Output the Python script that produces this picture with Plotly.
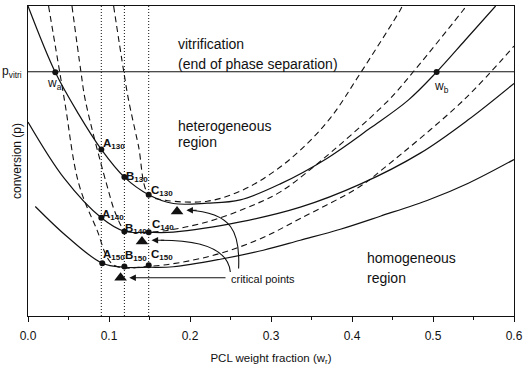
import plotly.graph_objects as go

# ---------------- data ----------------
p_vitri = 0.788

# solid curves (T = 130, 140, 150)
s130_x = [0.0, 0.0337, 0.0621, 0.0905, 0.1189, 0.1489, 0.1794, 0.2214, 0.2621, 0.3115, 0.3695, 0.4226, 0.4695, 0.5044, 0.5399, 0.5773]
s130_y = [1.0, 0.786, 0.6529, 0.5373, 0.4479, 0.3913, 0.3629, 0.3639, 0.3745, 0.4262, 0.5092, 0.6061, 0.6965, 0.7869, 0.8903, 1.0]

s140_x = [0.0, 0.0448, 0.0905, 0.1189, 0.1489, 0.1794, 0.2621, 0.3362, 0.4102, 0.4843, 0.5430, 0.6]
s140_y = [0.626, 0.444, 0.317, 0.2735, 0.270, 0.2706, 0.3035, 0.3510, 0.4253, 0.5254, 0.6321, 0.7504]

s150_x = [0.009, 0.0481, 0.0917, 0.1189, 0.1489, 0.1794, 0.2374, 0.2905, 0.3362, 0.3856, 0.4349, 0.4966, 0.5436, 0.6]
s150_y = [0.3532, 0.2564, 0.1702, 0.1572, 0.1572, 0.1589, 0.1831, 0.2122, 0.2444, 0.2799, 0.3219, 0.3768, 0.4285, 0.505]

# dashed curves
d130_x = [0.1057, 0.1183, 0.1242, 0.1362, 0.1489, 0.1695, 0.2213, 0.2621, 0.2991, 0.3362, 0.3732, 0.4102, 0.4596, 0.4621]
d130_y = [1.0, 0.7869, 0.6965, 0.5512, 0.3913, 0.3736, 0.3704, 0.4027, 0.4576, 0.5350, 0.6384, 0.7827, 0.9871, 1.0]

d140_x = [0.0543, 0.0654, 0.0707, 0.0967, 0.1090, 0.1201, 0.1510, 0.2210, 0.2827, 0.3115, 0.3526, 0.4432, 0.4757, 0.5374, 0.5411]
d140_y = [1.0, 0.7869, 0.6965, 0.4285, 0.3251, 0.2767, 0.2703, 0.3035, 0.3629, 0.4004, 0.4811, 0.6910, 0.7879, 0.9871, 1.0]

d150_x = [0.0254, 0.0450, 0.0625, 0.0843, 0.1057, 0.1510, 0.2210, 0.2827, 0.3362, 0.4099, 0.4390, 0.5378, 0.6]
d150_y = [1.0, 0.6965, 0.4285, 0.2832, 0.1647, 0.1605, 0.1905, 0.2444, 0.3145, 0.4178, 0.4760, 0.6965, 0.8709]

# vertical dotted lines
vlines_x = [0.0905, 0.119, 0.149]

# labelled points
pt_names = ["A", "B", "C", "A", "B", "C", "A", "B", "C"]
pt_temps = ["130", "130", "130", "140", "140", "140", "150", "150", "150"]
pt_x = [0.0905, 0.119, 0.149, 0.0905, 0.119, 0.149, 0.0917, 0.119, 0.149]
pt_y = [0.537, 0.448, 0.391, 0.317, 0.2725, 0.270, 0.170, 0.1595, 0.164]
# label pixel offsets (dx right, dy up) from each dot
pt_lab_dx = [0, 0, 0, -1, -1, 1, -1, -1, 0]
pt_lab_dy = [6, 0, 4, 3, 3, 7, 8, 11, 10]

# w_a and w_b on vitrification line
w_x = [0.0337, 0.5045]
w_y = [0.786, 0.787]

# critical points (triangles)
crit_x = [0.184, 0.1407, 0.1143]
crit_y = [0.337, 0.2404, 0.1232]

x_ticks = [0.0, 0.1, 0.2, 0.3, 0.4, 0.5, 0.6]
x_ticklabels = ["0.0", "0.1", "0.2", "0.3", "0.4", "0.5", "0.6"]

FONT = "Liberation Sans, Arial, sans-serif"
BLACK = "#111111"

fig = go.Figure()

# dotted verticals
for vx in vlines_x:
    fig.add_trace(go.Scatter(x=[vx, vx], y=[0, 1], mode="lines",
                             line=dict(color=BLACK, width=1, dash="1px,2px"),
                             hoverinfo="skip", showlegend=False))

# dashed curves
for xs, ys in [(d130_x, d130_y), (d140_x, d140_y), (d150_x, d150_y)]:
    fig.add_trace(go.Scatter(x=xs, y=ys, mode="lines",
                             line=dict(color=BLACK, width=1.1, dash="6px,4px", shape="spline", smoothing=1.0),
                             hoverinfo="skip", showlegend=False))

# solid curves
for xs, ys in [(s130_x, s130_y), (s140_x, s140_y), (s150_x, s150_y)]:
    fig.add_trace(go.Scatter(x=xs, y=ys, mode="lines",
                             line=dict(color=BLACK, width=1.2, shape="spline", smoothing=1.0),
                             hoverinfo="skip", showlegend=False))

# vitrification line
fig.add_trace(go.Scatter(x=[0, 0.6], y=[p_vitri, p_vitri], mode="lines",
                         line=dict(color=BLACK, width=1.1), hoverinfo="skip", showlegend=False))

# dots
fig.add_trace(go.Scatter(x=pt_x + w_x, y=pt_y + w_y, mode="markers",
                         marker=dict(color=BLACK, size=6, symbol="circle"),
                         hoverinfo="skip", showlegend=False))

# triangles
fig.add_trace(go.Scatter(x=crit_x, y=crit_y, mode="markers",
                         marker=dict(color=BLACK, size=11, symbol="triangle-up"),
                         hoverinfo="skip", showlegend=False))

# point labels
for n, t, x, y, dx, dy in zip(pt_names, pt_temps, pt_x, pt_y, pt_lab_dx, pt_lab_dy):
    fig.add_annotation(x=x, y=y, text=f"<b>{n}<sub>{t}</sub></b>", showarrow=False,
                       xanchor="left", yanchor="middle", xshift=dx, yshift=dy,
                       font=dict(family=FONT, size=11.5, color=BLACK))

# w labels
fig.add_annotation(x=w_x[0], y=w_y[0], text="w<sub>a</sub>", showarrow=False,
                   xanchor="left", yanchor="top", xshift=-10, yshift=-2,
                   font=dict(family=FONT, size=12, color=BLACK))
fig.add_annotation(x=w_x[1], y=w_y[1], text="w<sub>b</sub>", showarrow=False,
                   xanchor="left", yanchor="top", xshift=-5, yshift=-5,
                   font=dict(family=FONT, size=12, color=BLACK))

# p_vitri
fig.add_annotation(x=0, y=p_vitri, xref="paper", yref="y", text="p<sub>vitri</sub>", showarrow=False,
                   xanchor="right", yanchor="middle", xshift=-4, yshift=0,
                   font=dict(family=FONT, size=12, color=BLACK))

# region texts
texts = [
    ("vitrification", 0.1827, 0.8766, 14),
    ("(end of phase separation)", 0.1827, 0.8127, 14),
    ("heterogeneous", 0.1827, 0.6135, 14),
    ("region", 0.1827, 0.560, 14),
    ("homogeneous", 0.416, 0.1863, 14),
    ("region", 0.416, 0.124, 14),
    ("critical points", 0.2477, 0.1208, 11),
]
for txt, x, y, s in texts:
    fig.add_annotation(x=x, y=y, text=txt, showarrow=False, xanchor="left", yanchor="middle",
                       font=dict(family=FONT, size=s, color=BLACK))

# arrows: curved bodies as shapes, heads as annotations
fig.add_shape(type="path", xref="x", yref="y",
              path="M 0.260,0.153 C 0.262,0.2703 0.2522,0.3348 0.1975,0.3413",
              line=dict(color=BLACK, width=1.1))
fig.add_shape(type="path", xref="x", yref="y",
              path="M 0.2498,0.142 C 0.2472,0.212 0.2189,0.2444 0.1640,0.2444",
              line=dict(color=BLACK, width=1.1))
fig.add_annotation(x=0.1955, y=0.3413, ax=0.2100, ay=0.3413, axref="x", ayref="y",
                   xref="x", yref="y", text="", showarrow=True, arrowhead=2, arrowsize=1.2,
                   arrowwidth=1.1, arrowcolor=BLACK)
fig.add_annotation(x=0.1525, y=0.2444, ax=0.1700, ay=0.2444, axref="x", ayref="y",
                   xref="x", yref="y", text="", showarrow=True, arrowhead=2, arrowsize=1.2,
                   arrowwidth=1.1, arrowcolor=BLACK)
fig.add_annotation(x=0.1250, y=0.1233, ax=0.2457, ay=0.1233, axref="x", ayref="y",
                   xref="x", yref="y", text="", showarrow=True, arrowhead=2, arrowsize=1.2,
                   arrowwidth=1.1, arrowcolor=BLACK)

fig.update_layout(
    width=526, height=366,
    margin=dict(l=28, r=12, t=6, b=50),
    paper_bgcolor="white", plot_bgcolor="white",
    font=dict(family=FONT, size=12, color=BLACK),
    xaxis=dict(range=[0, 0.6], tickvals=x_ticks, ticktext=x_ticklabels, automargin=False,
               showgrid=False, zeroline=False, showline=True, linecolor=BLACK, linewidth=1.3,
               mirror=True, ticks="outside", ticklen=5, tickwidth=1.2, tickcolor=BLACK,
               ticklabelstandoff=3,
               minor=dict(dtick=0.05, ticks="outside", ticklen=3, tickwidth=1, tickcolor=BLACK),
               title=dict(text="PCL weight fraction (w<sub>r</sub>)", standoff=20,
                          font=dict(family=FONT, size=11.5, color=BLACK)),
               tickfont=dict(family=FONT, size=12, color=BLACK)),
    yaxis=dict(range=[0, 1], showticklabels=False, ticks="", automargin=False,
               showgrid=False, zeroline=False, showline=True, linecolor=BLACK, linewidth=1.3,
               mirror=True,
               title=dict(text="conversion (p)", standoff=2,
                          font=dict(family=FONT, size=12, color=BLACK))),
)

fig.write_html("out.html")
